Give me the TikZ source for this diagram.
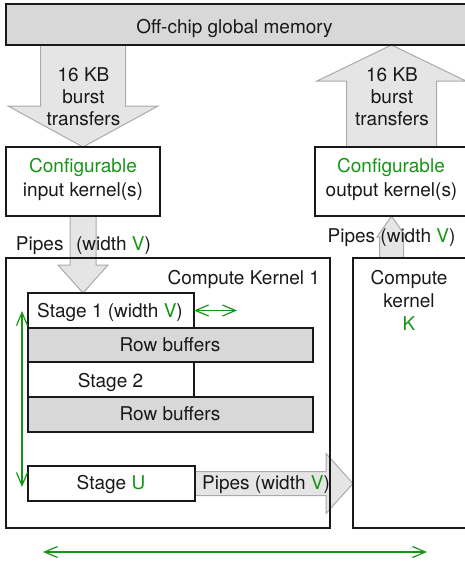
\documentclass[tikz,border=0pt]{standalone}
\usepackage{fontspec}
\setmainfont{TeX Gyre Heros}
\usetikzlibrary{calc,arrows.meta}
\definecolor{gr}{RGB}{20,150,20}
\definecolor{memfill}{RGB}{216,216,216}
\definecolor{pipefill}{RGB}{229,229,229}
\definecolor{pipeline}{RGB}{170,170,170}
\definecolor{ink}{RGB}{25,25,25}
\pgfdeclarelayer{bg}
\pgfsetlayers{bg,main}
% #1 start, #2 tip, #3 half shaft, #4 half head, #5 head length
\newcommand\fatarrow[5]{%
  \coordinate (fa-h) at ($(#2)!#5!(#1)$);
  \draw[pipe] ($(#1)!#3!90:(#2)$) -- ($(fa-h)!#3!-90:(#1)$) -- ($(fa-h)!#4!-90:(#1)$)
    -- (#2) -- ($(fa-h)!#4!90:(#1)$) -- ($(fa-h)!#3!90:(#1)$) -- ($(#1)!#3!-90:(#2)$) -- cycle;}
\begin{document}
\begin{tikzpicture}[x=1pt,y=-1pt,
  box/.style={draw=ink, line width=1.2pt, inner sep=0pt, outer sep=0pt},
  pipe/.style={draw=pipeline, fill=pipefill, line width=1pt, line join=miter},
  lbl/.style={inner sep=0pt, outer sep=0pt, anchor=base, text=ink, font=\fontsize{19}{22}\selectfont},
  garrow/.style={draw=gr, line width=1.2pt, {Straight Barb[length=13pt,width=11pt,line width=1.2pt]}-{Straight Barb[length=13pt,width=11pt,line width=1.2pt]}}]
\useasboundingbox (0,0) rectangle (465,563);
\clip (0,0) rectangle (465,563);

% boxes
\node[box, fill=memfill, minimum width=464pt, minimum height=41pt] (mem) at (238,24.5) {};
\node[box, minimum width=154pt, minimum height=69pt] (inbox) at (83,181.5) {};
\node[box, minimum width=153pt, minimum height=69pt] (outbox) at (391.5,181.5) {};
\node[box, minimum width=324pt, minimum height=270pt] (ck1) at (168,393) {};
\node[box, minimum width=127pt, minimum height=270pt] (ckK) at (416.5,393) {};
\node[box, fill=white, minimum width=166pt, minimum height=35pt] (st1) at (111,310.5) {};
\node[box, fill=memfill, minimum width=285pt, minimum height=34pt] (rb1) at (170.5,345) {};
\node[box, fill=white, minimum width=166pt, minimum height=35pt] (st2) at (111,379.5) {};
\node[box, fill=memfill, minimum width=285pt, minimum height=35pt] (rb2) at (170.5,414.5) {};
\node[box, fill=white, minimum width=167pt, minimum height=35pt] (stU) at (111.5,483.5) {};

% fat arrows (behind box borders)
\coordinate (a1s) at (inbox.north |- mem.south);
\coordinate (a2t) at (outbox.north |- mem.south);
\coordinate (a3t) at (inbox.south |- st1.north);
\coordinate (a4s) at (outbox.south |- ckK.north);
\coordinate (a5t) at (ckK.west |- stU.east);
\begin{pgfonlayer}{bg}
\fatarrow{a1s}{inbox.north}{42.5pt}{75pt}{41pt}
\fatarrow{outbox.north}{a2t}{45pt}{74.5pt}{36pt}
\fatarrow{inbox.south}{a3t}{13pt}{25pt}{28pt}
\fatarrow{a4s}{outbox.south}{12pt}{14.5pt}{21pt}
\fatarrow{stU.east}{a5t}{12pt}{30pt}{27pt}
\end{pgfonlayer}

% green dimension arrows
\coordinate (g1) at (237,310.5);
\coordinate (g2a) at (22,311);
\coordinate (g2b) at (22,487);
\coordinate (g3a) at (43,552);
\coordinate (g3b) at (427,552);
\draw[garrow] (st1.east) -- (g1);
\draw[garrow] (g2a) -- (g2b);
\draw[garrow] (g3a) -- (g3b);

% labels
\node[lbl] (tmem) at (234.5,33) {Off-chip global memory};
\node[lbl] (tin1) at (83.5,81) {16 KB};
\node[lbl] (tin2) at (83.5,103) {burst};
\node[lbl] (tin3) at (83.5,125) {transfers};
\node[lbl] (tout1) at (392,81) {16 KB};
\node[lbl] (tout2) at (392,103) {burst};
\node[lbl] (tout3) at (392,125) {transfers};
\node[lbl, text=gr] (tcfg1) at (83,172) {Configurable};
\node[lbl] (tin) at (83,196) {input kernel(s)};
\node[lbl, text=gr] (tcfg2) at (391,172) {Configurable};
\node[lbl] (tout) at (391.5,196) {output kernel(s)};
\node[lbl, anchor=base west] (tp1) at (16,250) {Pipes};
\node[lbl, anchor=base west] (tp1w) at (76,250) {(width \textcolor{gr}{V})};
\node[lbl] (tp2) at (391.5,242) {Pipes (width \textcolor{gr}{V})};
\node[lbl, anchor=base east] (tck1) at (320,284) {Compute Kernel 1};
\node[lbl] (tckK1) at (409,284) {Compute};
\node[lbl] (tckK2) at (409,307) {kernel};
\node[lbl, text=gr] (tckK3) at (409,330) {K};
\node[lbl] (tst1) at (110,317) {Stage 1 (width \textcolor{gr}{V})};
\node[lbl] (trb1) at (170,351) {Row buffers};
\node[lbl] (tst2) at (110.5,387) {Stage 2};
\node[lbl] (trb2) at (170,420) {Row buffers};
\node[lbl] (tstU) at (111,489) {Stage \textcolor{gr}{U}};
\node[lbl] (tp3) at (266,489) {Pipes (width \textcolor{gr}{V})};
\end{tikzpicture}
\end{document}
